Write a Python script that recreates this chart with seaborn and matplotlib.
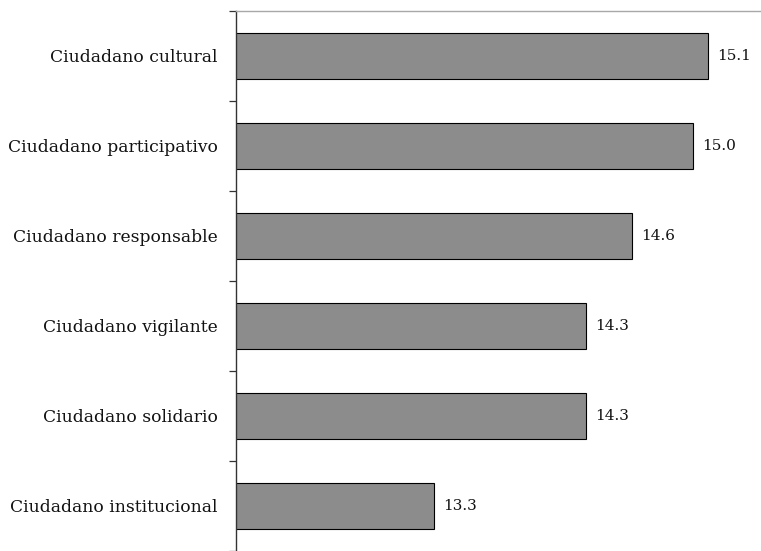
import matplotlib
matplotlib.use("Agg")
import matplotlib.pyplot as plt
import seaborn as sns
import pandas as pd
from matplotlib.ticker import FixedLocator, NullLocator

categories = [
    "Ciudadano cultural",
    "Ciudadano participativo",
    "Ciudadano responsable",
    "Ciudadano vigilante",
    "Ciudadano solidario",
    "Ciudadano institucional",
]
values = [15.1, 15.0, 14.6, 14.3, 14.3, 13.3]
value_labels = ["15.1", "15.0", "14.6", "14.3", "14.3", "13.3"]

df = pd.DataFrame({"categoria": categories, "valor": values})

sns.set_theme(style="white")
plt.rcParams["font.family"] = ["DejaVu Serif"]

fig = plt.figure(figsize=(7.61, 5.51), dpi=100)
ax = fig.add_axes([236 / 761, 0.0, 1 - 236 / 761, 540 / 551])

sns.barplot(data=df, x="valor", y="categoria", orient="h", color="#8c8c8c",
            saturation=1, edgecolor="black", linewidth=0.8, width=0.52, ax=ax)

ax.set_xlim(12, 15.45)
ax.set_ylim(len(categories) - 0.5, -0.5)

for i, (v, lab) in enumerate(zip(values, value_labels)):
    ax.text(v + 0.06, i, lab, va="center", ha="left", fontsize=11, color="#111111")

ax.set_xlabel("")
ax.set_ylabel("")
ax.xaxis.set_major_locator(NullLocator())
ax.tick_params(axis="y", which="major", length=0, pad=13, labelsize=12.3, labelcolor="#111111")
ax.yaxis.set_minor_locator(FixedLocator([i - 0.5 for i in range(len(categories) + 1)]))
ax.tick_params(axis="y", which="minor", length=5, width=0.9, color="#333333", direction="out", left=True)

for s in ["bottom", "right"]:
    ax.spines[s].set_visible(False)
ax.spines["left"].set_color("#333333")
ax.spines["left"].set_linewidth(1.0)
ax.spines["top"].set_color("#a8a8a8")
ax.spines["top"].set_linewidth(1.0)

fig.savefig("out.png", dpi=100)
